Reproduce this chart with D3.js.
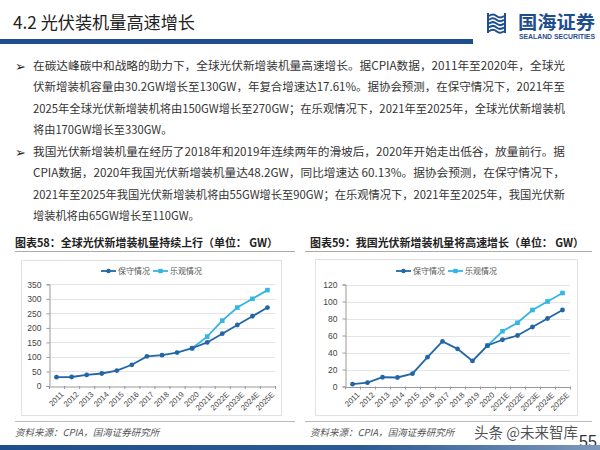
<!DOCTYPE html>
<html><head><meta charset="utf-8">
<script src="https://cdn.jsdelivr.net/npm/d3@7"></script>
<style>
html,body{margin:0;padding:0;background:#fff;}
svg{display:block;}
</style></head>
<body>
<svg id="c" width="600" height="450"></svg>
<script>
const years = ["2011","2012","2013","2014","2015","2016","2017","2018","2019","2020","2021E","2022E","2023E","2024E","2025E"];
const globalConservative = [30.2,31,38,43,53,73,102,106,115,130,150,180,210,240,270];
const globalOptimistic = [null,null,null,null,null,null,null,null,null,130,170,225,270,300,330];
const chinaConservative = [2.7,4.5,10.9,10.6,15.1,34.5,53,44.3,30.1,48.2,55,60,70,80,90];
const chinaOptimistic = [null,null,null,null,null,null,null,null,null,48.2,65,75,90,100,110];
const globalTicks = [0,50,100,150,200,250,300,350];
const chinaTicks = [0,20,40,60,80,100,120];
const seriesNames = ["保守情况","乐观情况"];

const pageTitle = "4.2 光伏装机量高速增长";
const bullet1 = [
 "在碳达峰碳中和战略的助力下，全球光伏新增装机量高速增长。据CPIA数据，2011年至2020年，全球光",
 "伏新增装机容量由30.2GW增长至130GW，年复合增速达17.61%。据协会预测，在保守情况下，2021年至",
 "2025年全球光伏新增装机将由150GW增长至270GW；在乐观情况下，2021年至2025年，全球光伏新增装机",
 "将由170GW增长至330GW。"];
const bullet2 = [
 "我国光伏新增装机量在经历了2018年和2019年连续两年的滑坡后，2020年开始走出低谷，放量前行。据",
 "CPIA数据，2020年我国光伏新增装机量达48.2GW，同比增速达 60.13%。据协会预测，在保守情况下，",
 "2021年至2025年我国光伏新增装机将由55GW增长至90GW；在乐观情况下，2021年至2025年，我国光伏新",
 "增装机将由65GW增长至110GW。"];
const chartTitles = ["图表58：全球光伏新增装机量持续上行（单位： GW）","图表59：我国光伏新增装机量将高速增长（单位： GW）"];
const sourceText = "资料来源：CPIA，国海证券研究所";

const svg = d3.select("#c");
const CJK = "'Noto Sans CJK SC','Noto Sans',sans-serif";
const darkBlue = "#1f4e8f";
const cCons = "#2366a6", cOpt = "#34b5e3";

// header
svg.append("text").attr("x",13).attr("y",29).attr("font-family",CJK).attr("font-size",17.5)
  .attr("fill","#222").attr("textLength",182).attr("lengthAdjust","spacingAndGlyphs").text(pageTitle);
svg.append("rect").attr("x",0).attr("y",39).attr("width",473).attr("height",5).attr("fill",darkBlue);

// logo
const logo = svg.append("g").attr("transform","translate(488,13)");
[0,4,8,12,16].forEach((o,i)=>{
  logo.append("path").attr("d",`M1,${3+o*0.95} q4,-3 7.5,0 t7.5,0`).attr("stroke",darkBlue).attr("stroke-width",2).attr("fill","none");
});
logo.append("path").attr("d","M0,0 v20 M17,0 v20").attr("stroke",darkBlue).attr("stroke-width",2);
svg.append("text").attr("x",518).attr("y",29).attr("font-family",CJK).attr("font-weight","bold")
  .attr("font-size",18).attr("fill",darkBlue).attr("textLength",77).attr("lengthAdjust","spacingAndGlyphs").text("国海证券");
svg.append("text").attr("x",519).attr("y",39).attr("font-family","'Liberation Sans',Arial,sans-serif").attr("font-weight","bold")
  .attr("font-size",6.3).attr("fill",darkBlue).attr("textLength",76).attr("lengthAdjust","spacingAndGlyphs").text("SEALAND SECURITIES");

// bullets
function bullet(lines, y0){
  svg.append("text").attr("x",15).attr("y",y0+5).attr("font-family","'DejaVu Sans',sans-serif")
    .attr("font-size",13).attr("fill","#222").text("➢");
  lines.forEach((t,i)=>{
    const el = svg.append("text").attr("x",33).attr("y",y0+4+i*21.3).attr("font-family",CJK)
      .attr("font-size",11.2).attr("fill","#333").text(t);
    if(i<lines.length-1) el.attr("textLength",532).attr("lengthAdjust","spacingAndGlyphs");
  });
}
bullet(bullet1, 66);
bullet(bullet2, 152);

// chart titles + rules
[[15,263,chartTitles[0]],[310,274,chartTitles[1]]].forEach(([x,w,t])=>{
  svg.append("text").attr("x",x).attr("y",247).attr("font-family",CJK).attr("font-weight","bold")
    .attr("font-size",11).attr("fill","#222").attr("textLength",w).attr("lengthAdjust","spacingAndGlyphs").text(t);
});
svg.append("line").attr("x1",15).attr("x2",295).attr("y1",251.5).attr("y2",251.5).attr("stroke","#aaa").attr("stroke-width",1);
svg.append("line").attr("x1",305).attr("x2",592).attr("y1",251.5).attr("y2",251.5).attr("stroke","#aaa").attr("stroke-width",1);
svg.append("line").attr("x1",15).attr("x2",295).attr("y1",421.5).attr("y2",421.5).attr("stroke","#bbb").attr("stroke-width",1);
svg.append("line").attr("x1",305).attr("x2",592).attr("y1",421.5).attr("y2",421.5).attr("stroke","#bbb").attr("stroke-width",1);

// sources
[15,310].forEach(x=>{
  svg.append("text").attr("x",x).attr("y",436).attr("font-family",CJK).attr("font-size",9.5)
    .attr("font-style","italic").attr("fill","#555").text(sourceText);
});

// chart function
function chart(opt){
  const g = svg.append("g");
  g.append("rect").attr("x",opt.box[0]+0.5).attr("y",opt.box[1]+0.5).attr("width",opt.box[2]-opt.box[0])
   .attr("height",opt.box[3]-opt.box[1]).attr("fill","#fff").attr("stroke","#e2e2e2");
  const x = d3.scaleBand().domain(years).range([opt.x0,opt.x1]);
  const y = d3.scaleLinear().domain([0,d3.max(opt.ticks)]).range([opt.y0,opt.y1]);
  g.append("g").selectAll("line").data(opt.ticks.slice(1)).join("line")
    .attr("x1",opt.x0).attr("x2",opt.x1).attr("y1",d=>Math.round(y(d))+0.5).attr("y2",d=>Math.round(y(d))+0.5)
    .attr("stroke","#e4e4e4").attr("stroke-width",1);
  const ya = g.append("g").attr("transform",`translate(${opt.x0+0.5},0)`)
    .call(d3.axisLeft(y).tickValues(opt.ticks).tickSize(3).tickPadding(5));
  ya.select(".domain").attr("stroke","#999");
  ya.selectAll(".tick line").attr("stroke","#999");
  ya.selectAll("text").attr("font-family","'Liberation Sans',Arial,sans-serif").attr("font-size",8.5).attr("fill","#444");
  const xa = g.append("g").attr("transform",`translate(0,${opt.y0+0.5})`)
    .call(d3.axisBottom(x).tickSize(0).tickPadding(4));
  xa.select(".domain").attr("stroke","#999");
  xa.selectAll("text").attr("font-family","'Liberation Sans',Arial,sans-serif").attr("font-size",7.8).attr("fill","#444")
    .attr("text-anchor","end").attr("dy","0.3em").attr("transform","translate(3,4) rotate(-45)");
  g.append("g").selectAll("line").data(years.concat(["_end"])).join("line")
    .attr("x1",(d,i)=>opt.x0+i*x.step()+0.5).attr("x2",(d,i)=>opt.x0+i*x.step()+0.5)
    .attr("y1",opt.y0).attr("y2",opt.y0+3).attr("stroke","#999");
  const cx = d=>x(d)+x.bandwidth()/2;
  const line = d3.line().defined(d=>d[1]!=null).x(d=>cx(d[0])).y(d=>y(d[1]));
  const optData = years.map((yr,i)=>[yr,opt.opt[i]]);
  const conData = years.map((yr,i)=>[yr,opt.con[i]]);
  g.append("path").datum(optData).attr("d",line).attr("fill","none").attr("stroke",cOpt).attr("stroke-width",1.8);
  g.append("g").selectAll("rect").data(optData.filter(d=>d[1]!=null)).join("rect")
    .attr("x",d=>cx(d[0])-2.3).attr("y",d=>y(d[1])-2.3).attr("width",4.6).attr("height",4.6).attr("fill",cOpt);
  g.append("path").datum(conData).attr("d",line).attr("fill","none").attr("stroke",cCons).attr("stroke-width",1.8);
  g.append("g").selectAll("circle").data(conData).join("circle")
    .attr("cx",d=>cx(d[0])).attr("cy",d=>y(d[1])).attr("r",2.4).attr("fill",cCons);
  const lg = g.append("g").attr("transform",`translate(${opt.leg},${opt.legY})`);
  [[0,cCons,"c"],[52,cOpt,"s"]].forEach(([dx,col,m],i)=>{
    lg.append("line").attr("x1",dx).attr("x2",dx+15).attr("y1",0).attr("y2",0).attr("stroke",col).attr("stroke-width",1.8);
    if(m==="c") lg.append("circle").attr("cx",dx+7.5).attr("cy",0).attr("r",2.2).attr("fill",col);
    else lg.append("rect").attr("x",dx+5.3).attr("y",-2.2).attr("width",4.4).attr("height",4.4).attr("fill",col);
    lg.append("text").attr("x",dx+17).attr("y",3).attr("font-family",CJK).attr("font-size",8).attr("fill","#555").text(seriesNames[i]);
  });
}
chart({box:[21,260,281,415],x0:49,x1:275,y0:386,y1:284.3,ticks:globalTicks,con:globalConservative,opt:globalOptimistic,leg:101,legY:271});
chart({box:[315,259,577,415],x0:345,x1:570,y0:386.5,y1:284.5,ticks:chinaTicks,con:chinaConservative,opt:chinaOptimistic,leg:396,legY:271});

// watermark and page number
svg.append("text").attr("x",474).attr("y",438).attr("font-family",CJK).attr("font-size",14.5).attr("fill","#333").attr("fill-opacity",0.85).text("头条 @未来智库");
svg.append("text").attr("x",579).attr("y",447).attr("font-family","'Liberation Sans',Arial,sans-serif").attr("font-size",16).attr("fill","#333").text("55");

const defs = svg.append("defs");
const gr = defs.append("linearGradient").attr("id","bb").attr("x1","0").attr("x2","1");
gr.append("stop").attr("offset","0").attr("stop-color","#1f4e8c");
gr.append("stop").attr("offset","0.6").attr("stop-color","#2b5a95");
gr.append("stop").attr("offset","1").attr("stop-color","#7d98bb");
svg.append("rect").attr("x",0).attr("y",445).attr("width",600).attr("height",5).attr("fill","url(#bb)");
</script>
</body></html>
